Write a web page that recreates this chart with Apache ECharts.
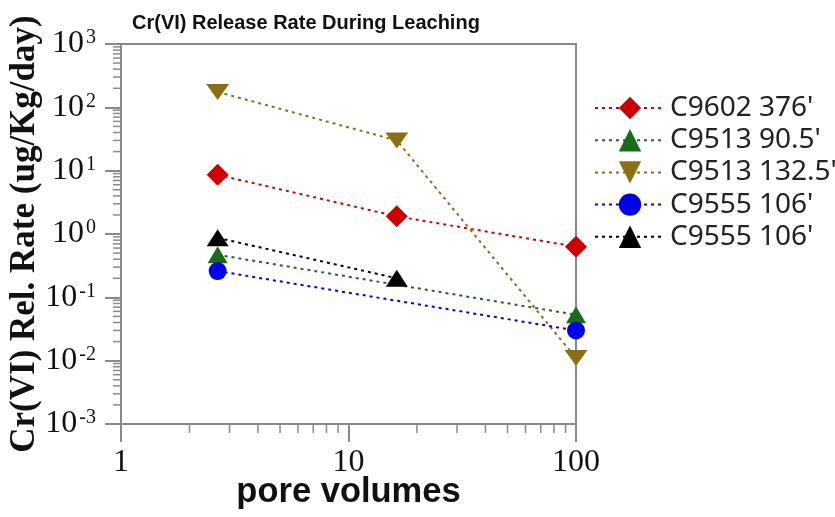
<!DOCTYPE html>
<html>
<head>
<meta charset="utf-8">
<script src="https://cdn.jsdelivr.net/npm/echarts@6/dist/echarts.min.js"></script>
<style>
html,body{margin:0;padding:0;background:#fff;}
#chart{width:835px;height:517px;}
</style>
</head>
<body>
<div id="chart"></div>
<script>
// ---- data ----
const seriesNames = ["C9602 376'", "C9513 90.5'", "C9513 132.5'", "C9555 106'", "C9555 106'"];
const redData   = [[2.66, 8.6], [16.3, 1.9], [100, 0.63]];
const greenData = [[2.66, 0.47], [100, 0.053]];
const goldData  = [[2.66, 175], [16.3, 30], [100, 0.011]];
const blueData  = [[2.66, 0.26], [100, 0.030]];
const blackData = [[2.66, 0.87], [16.3, 0.20]];
const xTicks = [1, 10, 100];
const yTicks = [0.001, 0.01, 0.1, 1, 10, 100, 1000];
const minorMantissas = [2, 3, 4, 5, 6, 7, 8, 9];

// minor tick positions (axis decoration only)
const xMinor = [];
xTicks.slice(0, -1).forEach(d => minorMantissas.forEach(m => xMinor.push([m * d, 1])));
const yMinor = [];
yTicks.slice(0, -1).forEach(d => minorMantissas.forEach(m => yMinor.push([1, +(m * d).toPrecision(6)])));

const AX = '#8a8a8a';
const chart = echarts.init(document.getElementById('chart'), null, {renderer: 'canvas'});
const names = seriesNames.slice();
names[4] = names[4] + '\u200B'; // keep the duplicate legend entry distinct

const downTri = 'path://M0,0 L20,0 L10,14 Z';

function mkLine(name, data, color, symbol, size) {
  return {
    name: name, type: 'line', data: data,
    symbol: symbol, symbolSize: size,
    itemStyle: {color: color},
    lineStyle: {color: color, type: [3, 4], width: 2},
    z: 5
  };
}

const option = {
  animation: false,
  backgroundColor: '#fff',
  title: {
    text: 'Cr(VI) Release Rate During Leaching',
    left: 127, top: 8,
    textStyle: {fontFamily: 'Liberation Sans', fontWeight: 'bold', fontSize: 20, color: '#111'}
  },
  grid: {left: 121, right: 259, top: 44, bottom: 93, show: true, borderColor: AX, borderWidth: 2,
         containLabel: false, outerBoundsMode: 'none'},
  legend: {
    orient: 'vertical', left: 594, top: 94, padding: 0,
    itemWidth: 70, itemHeight: 28, itemGap: 4.2,
    data: names,
    textStyle: {fontFamily: 'Noto Sans', fontSize: 28, color: '#222'},
    formatter: n => n.replace('\u200B', '')
  },
  xAxis: {
    type: 'log', logBase: 10, min: 1, max: 100, splitNumber: 2,
    name: 'pore volumes', nameLocation: 'middle', nameGap: 51, nameMoveOverlap: false,
    nameTextStyle: {fontFamily: 'Liberation Sans', fontWeight: 'bold', fontSize: 34.5, color: '#111'},
    axisLine: {show: true, lineStyle: {color: AX, width: 2}},
    axisTick: {show: true, inside: false, length: 18, lineStyle: {color: AX, width: 2}},
    axisLabel: {fontFamily: 'Liberation Serif', fontSize: 32, color: '#111', margin: 23},
    splitLine: {show: false}
  },
  yAxis: {
    type: 'log', logBase: 10, min: 0.001, max: 1000, splitNumber: 6,
    name: 'Cr(VI) Rel. Rate (ug/Kg/day)', nameLocation: 'middle', nameGap: 79, nameMoveOverlap: false,
    nameTextStyle: {fontFamily: 'Liberation Serif', fontWeight: 'bold', fontSize: 35, color: '#111'},
    axisLine: {show: true, lineStyle: {color: AX, width: 2}},
    axisTick: {show: true, inside: false, length: 16, lineStyle: {color: AX, width: 2}},
    axisLabel: {
      margin: 25,
      formatter: v => '{b|10}{s|' + Math.round(Math.log10(v)) + '}',
      rich: {
        b: {fontFamily: 'Liberation Serif', fontSize: 32, color: '#111'},
        s: {fontFamily: 'Liberation Serif', fontSize: 20, color: '#111', verticalAlign: 'top', padding: [0, 0, 0, 2]}
      }
    },
    splitLine: {show: false}
  },
  series: [
    mkLine(names[0], redData, '#cc0000', 'diamond', [22, 22]),
    mkLine(names[1], greenData, '#1a6b1a', 'triangle', [20, 17]),
    mkLine(names[2], goldData, '#8a7014', downTri, [23, 16]),
    mkLine(names[3], blueData, '#0000e6', 'circle', 18),
    mkLine(names[4], blackData, '#000000', 'triangle', [22, 17]),
    {
      type: 'custom', silent: true, z: 1, data: yMinor,
      renderItem: (params, api) => {
        const cs = params.coordSys;
        const p = api.coord([api.value(0), api.value(1)]);
        return {type: 'line', shape: {x1: cs.x - 8, y1: p[1], x2: cs.x, y2: p[1]}, style: {stroke: AX, lineWidth: 1.5}};
      }
    },
    {
      type: 'custom', silent: true, z: 1, data: xMinor,
      renderItem: (params, api) => {
        const cs = params.coordSys;
        const p = api.coord([api.value(0), api.value(1)]);
        const yb = cs.y + cs.height;
        return {type: 'line', shape: {x1: p[0], y1: yb, x2: p[0], y2: yb + 9}, style: {stroke: AX, lineWidth: 1.5}};
      }
    }
  ]
};
chart.setOption(option);
</script>
</body>
</html>
